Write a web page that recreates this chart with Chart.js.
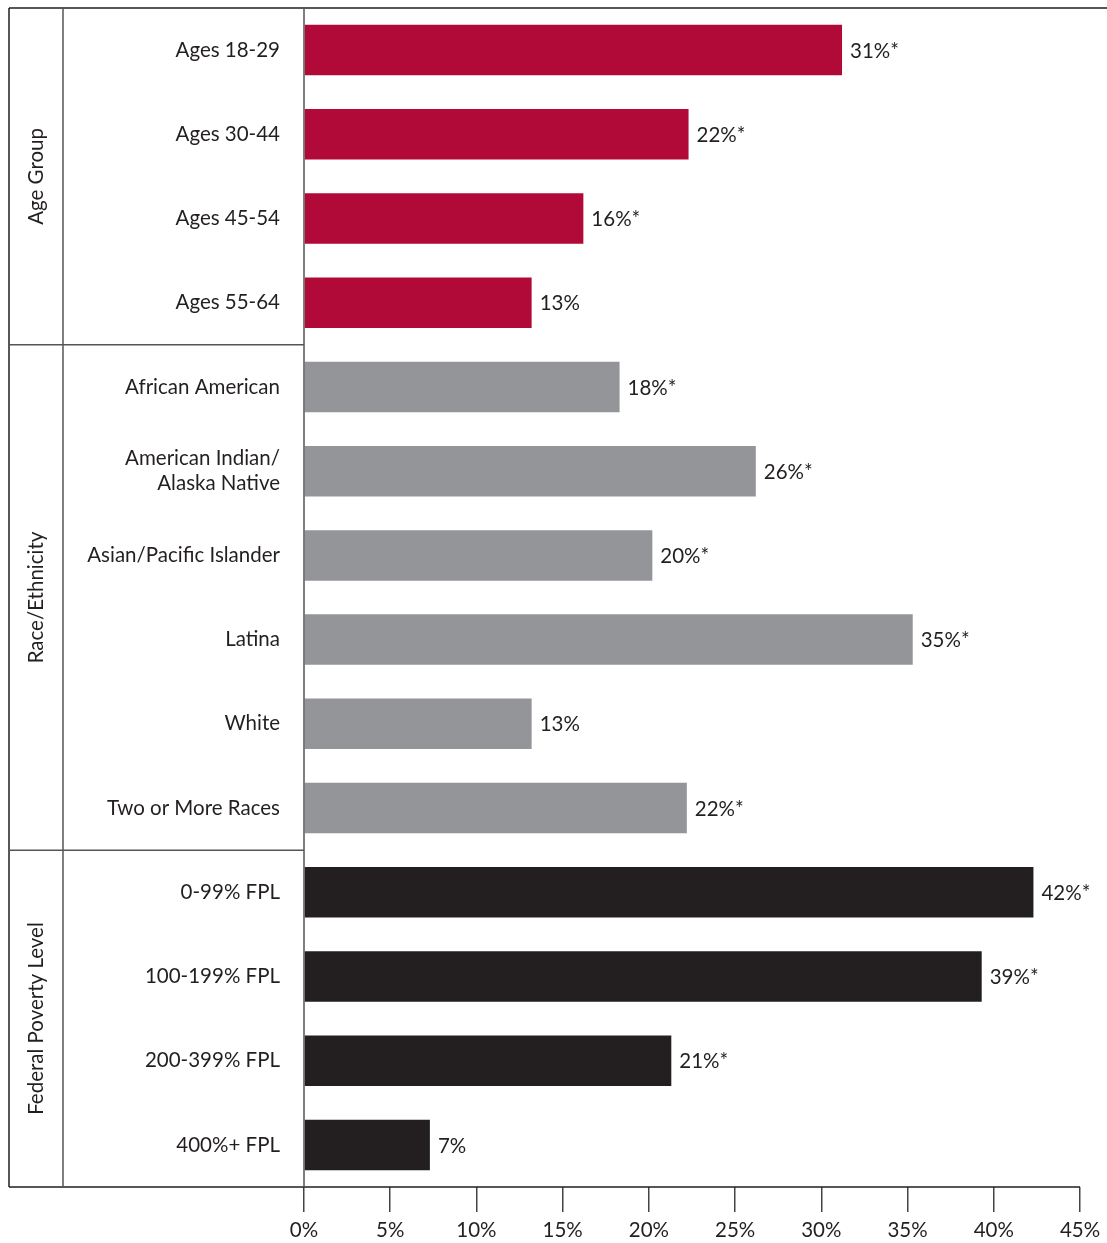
<!DOCTYPE html>
<html>
<head>
<meta charset="utf-8">
<script src="https://cdn.jsdelivr.net/npm/chart.js@4/dist/chart.umd.min.js"></script>
<style>
  body { margin: 0; background: #fff; }
  #wrap { width: 1107px; height: 1243px; position: relative; }
</style>
</head>
<body>
<div id="wrap"><canvas id="barChart"></canvas></div>
<script>
var categories = [
    "Ages 18-29", "Ages 30-44", "Ages 45-54", "Ages 55-64",
    "African American", ["American Indian/", "Alaska Native"], "Asian/Pacific Islander",
    "Latina", "White", "Two or More Races",
    "0-99% FPL", "100-199% FPL", "200-399% FPL", "400%+ FPL"
];
var values = [31.2, 22.3, 16.2, 13.2, 18.3, 26.2, 20.2, 35.3, 13.2, 22.2, 42.3, 39.3, 21.3, 7.3];
var significant = [true, true, true, false, true, true, true, true, false, true, true, true, true, false];
var groups = ["Age Group", "Race/Ethnicity", "Federal Poverty Level"];
var groupSizes = [4, 6, 4];
var xTicks = [0, 5, 10, 15, 20, 25, 30, 35, 40, 45];

var groupColors = ['#b10a39', '#939598', '#231f20'];
var textColor = '#231f20';
var fontFamily = 'Lato, "Open Sans", sans-serif';
var fontSize = 20.5;

var barColors = [];
groupSizes.forEach(function (n, g) {
    for (var i = 0; i < n; i++) barColors.push(groupColors[g]);
});

var framePlugin = {
    id: 'frame',
    afterDraw: function (chart) {
        var ctx = chart.ctx;
        var area = chart.chartArea;
        var yScale = chart.scales.y;
        var boxLeft = 9, divider = 63;

        ctx.save();
        ctx.strokeStyle = '#231f20';
        ctx.lineWidth = 1.5;
        ctx.beginPath();
        // outer frame
        ctx.moveTo(boxLeft, area.top); ctx.lineTo(chart.width, area.top);
        ctx.moveTo(boxLeft, area.top); ctx.lineTo(boxLeft, area.bottom);
        ctx.moveTo(boxLeft, area.bottom); ctx.lineTo(area.right, area.bottom);
        ctx.stroke();

        ctx.strokeStyle = '#555';
        ctx.beginPath();
        ctx.moveTo(divider, area.top); ctx.lineTo(divider, area.bottom);
        ctx.moveTo(area.left, area.top); ctx.lineTo(area.left, area.bottom);
        ctx.stroke();

        // group separators and rotated group titles
        ctx.fillStyle = textColor;
        ctx.font = fontSize + 'px ' + fontFamily;
        ctx.textAlign = 'center';
        ctx.textBaseline = 'middle';
        var start = 0;
        groupSizes.forEach(function (n, g) {
            var end = start + n - 1;
            var top = start === 0 ? area.top : (yScale.getPixelForValue(start - 1) + yScale.getPixelForValue(start)) / 2;
            var bottom = end === categories.length - 1 ? area.bottom : (yScale.getPixelForValue(end) + yScale.getPixelForValue(end + 1)) / 2;
            if (end < categories.length - 1) {
                ctx.beginPath();
                ctx.moveTo(boxLeft, bottom);
                ctx.lineTo(area.left, bottom);
                ctx.stroke();
            }
            ctx.save();
            ctx.translate((boxLeft + divider) / 2, (top + bottom) / 2);
            ctx.rotate(-Math.PI / 2);
            ctx.fillText(groups[g], 0, 0);
            ctx.restore();
            start += n;
        });

        // value labels
        var meta = chart.getDatasetMeta(0);
        ctx.textAlign = 'left';
        meta.data.forEach(function (bar, i) {
            var label = Math.round(values[i]) + '%' + (significant[i] ? '*' : '');
            ctx.fillText(label, bar.x + 8, bar.y + 1);
        });
        ctx.restore();
    }
};

new Chart(document.getElementById('barChart'), {
    type: 'bar',
    data: {
        labels: categories,
        datasets: [{
            data: values,
            backgroundColor: barColors,
            barPercentage: 0.6,
            categoryPercentage: 1
        }]
    },
    options: {
        indexAxis: 'y',
        responsive: true,
        maintainAspectRatio: false,
        animation: false,
        layout: { padding: { top: 8, right: 27, left: 0, bottom: 0 } },
        plugins: {
            legend: { display: false },
            tooltip: { enabled: false }
        },
        scales: {
            x: {
                min: 0,
                max: 45,
                afterBuildTicks: function (scale) {
                    scale.ticks = xTicks.map(function (v) { return { value: v }; });
                },
                afterFit: function (scale) {
                    scale.height = 56;
                    scale.paddingLeft = 0;
                    scale.paddingRight = 0;
                },
                ticks: {
                    callback: function (v) { return v + '%'; },
                    color: textColor,
                    font: { family: fontFamily, size: fontSize },
                    padding: 6,
                    maxRotation: 0
                },
                grid: {
                    drawOnChartArea: false,
                    tickLength: 25,
                    color: '#444',
                    lineWidth: 1.5
                },
                border: { display: false }
            },
            y: {
                afterFit: function (scale) {
                    scale.width = 304;
                    scale.paddingTop = 0;
                    scale.paddingBottom = 0;
                },
                ticks: {
                    color: textColor,
                    font: { family: fontFamily, size: fontSize, lineHeight: 1.2 },
                    padding: 24
                },
                grid: { display: false, drawTicks: false },
                border: { display: false }
            }
        }
    },
    plugins: [framePlugin]
});
</script>
</body>
</html>
